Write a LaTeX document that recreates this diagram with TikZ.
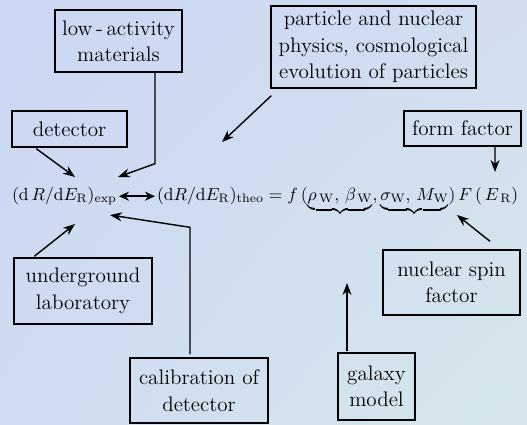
\documentclass[tikz,border=0pt]{standalone}
\usepackage{amsmath}
\usepackage{tikz}
\usetikzlibrary{arrows.meta, positioning, calc, shadings}

\definecolor{bgtl}{HTML}{CBD7F3}
\definecolor{bgtr}{HTML}{D2DEF0}
\definecolor{bgbl}{HTML}{CFDCF1}
\definecolor{bgbr}{HTML}{D5E7EC}

\begin{document}
\begin{tikzpicture}[
        x=0.02cm, y=-0.02cm,
        box/.style={
            draw,
            thick,
            rectangle,
            inner sep=2pt,
            align=center,
            font=\fontsize{12}{15}\selectfont
        },
        eq/.style={
            inner sep=1pt,
            font=\fontsize{10.4}{13}\selectfont
        },
        arrow/.style={-{Stealth[length=2.4mm, width=1.8mm]}, thick},
        dblarrow/.style={{Stealth[length=2mm, width=1.8mm]}-{Stealth[length=2mm, width=1.8mm]}, very thick}
    ]

    % Background
    \useasboundingbox (0,0) rectangle (527,424);
    \shade[upper left=bgtl, upper right=bgtr, lower left=bgbl, lower right=bgbr]
        (0,0) rectangle (527,424);

    % Equation (experimental and theoretical rate)
    \node[eq, anchor=base west] (expeq) at (10,200)
        {$(\mathrm{d}\,R/\mathrm{d}E_{\mathrm{R}})_{\mathrm{exp}}$};
    \node[eq, anchor=base west] (theoeq) at (155,200)
        {$(\mathrm{d}R/\mathrm{d}E_{\mathrm{R}})_{\mathrm{theo}} = f\,(\underbrace{\rho_{\,\mathrm{W}},\,\beta_{\,\mathrm{W}}},\underbrace{\sigma_{\mathrm{W}},\,M_{\mathrm{W}}})\,F\,(\,E_{\,\mathrm{R}})$};

    % Boxes above the equation
    \node[box, minimum width=2.54cm, minimum height=1.24cm] (lowact) at (118.5,41)
        {low\,-\,activity\\materials};
    \node[box, minimum width=4.10cm, minimum height=1.64cm] (partphys) at (373.5,47)
        {particle and nuclear\\physics, cosmological\\evolution of particles};
    \node[box, minimum width=2.30cm, minimum height=0.72cm] (detbox) at (69.5,129) {detector};
    \node[box, minimum width=2.34cm, minimum height=0.70cm] (formfac) at (462.5,128.5) {form factor};

    % Boxes below the equation
    \node[box, minimum width=2.76cm, minimum height=1.32cm] (underlab) at (83,291)
        {underground\\laboratory};
    \node[box, minimum width=2.74cm, minimum height=1.30cm] (nucspin) at (451.5,282.5)
        {nuclear spin\\factor};
    \node[box, minimum width=2.76cm, minimum height=1.30cm] (calib) at (199,390.5)
        {calibration of\\detector};
    \node[box, minimum width=1.54cm, minimum height=1.34cm] (galaxy) at (376.5,386.5)
        {galaxy\\model};

    % Arrow tips around the equation
    \coordinate (lowtip) at (118,177);
    \coordinate (parttip) at (222,142);
    \coordinate (dettip) at (75,177);
    \coordinate (formtip) at (495,172);
    \coordinate (spintip) at (457,215);
    \coordinate (labtip) at (75,224);
    \coordinate (calibtip) at (110,215);
    \coordinate (galtip) at (347,283);

    % exp <-> theo
    \draw[dblarrow] (expeq.mid east) -- (theoeq.mid west);

    % Arrows: boxes -> equation
    \draw[arrow] ($(lowact.south)+(36.5,0)$) -- ++(0,91) -- (lowtip);
    \draw[arrow] ($(partphys.south west)+(1,7)$) -- (parttip);
    \draw[arrow] ($(detbox.south west)+(25,1)$) -- (dettip);
    \draw[arrow] ($(formfac.south)+(32.5,0)$) -- (formtip);
    \draw[arrow] ($(nucspin.north)+(38.5,-8)$) -- (spintip);
    \draw[arrow] ($(underlab.north west)+(21,-1)$) -- (labtip);
    \draw[arrow] ($(calib.north)+(-9,-3)$) -- ++(0,-127) -- (calibtip);
    \draw[arrow] ($(galaxy.north)+(-29.5,-1)$) -- (galtip);

\end{tikzpicture}
\end{document}
